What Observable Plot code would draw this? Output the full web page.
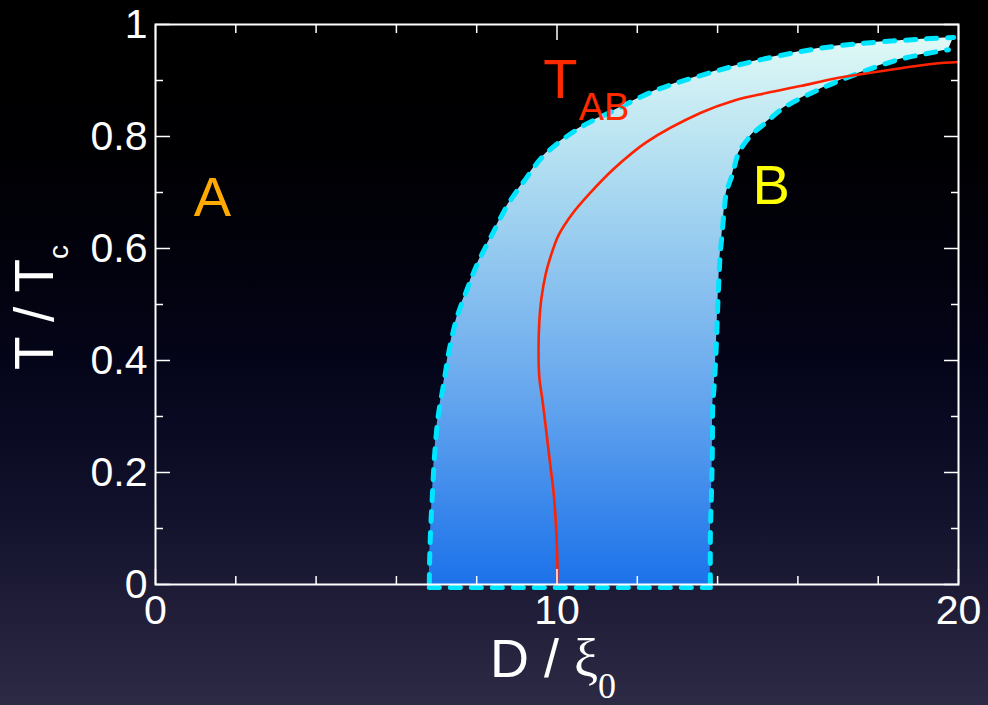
<!DOCTYPE html>
<html><head><meta charset="utf-8">
<script src="https://cdn.jsdelivr.net/npm/d3@7"></script>
<script src="https://cdn.jsdelivr.net/npm/@observablehq/plot@0.6"></script>
<style>
html,body{margin:0;padding:0;width:988px;height:705px;overflow:hidden;
background: linear-gradient(to bottom, #000000 0%, #000002 20%, #02020f 40%, #06061d 55%, #10102a 70%, #1e1c36 85%, #2c2a44 100%);}
#chart svg{display:block;}
</style></head><body><div id="chart"></div>
<script>
// Left (A-side) boundary of the shaded band, bottom to top
const leftD = [6.82, 6.83, 6.86, 6.90, 6.95, 7.04, 7.17, 7.32, 7.50, 7.75, 8.02, 8.40, 8.79, 9.20, 9.66, 10.51, 11.41, 12.41, 13.40, 14.94, 17.01, 19.88];
const leftT = [0.00, 0.05, 0.11, 0.165, 0.23, 0.30, 0.355, 0.42, 0.475, 0.525, 0.573, 0.627, 0.680, 0.722, 0.765, 0.813, 0.846, 0.881, 0.905, 0.935, 0.962, 0.977];
// Right (B-side) boundary of the shaded band, bottom to top
const rightD = [13.82, 13.82, 13.85, 13.87, 13.88, 13.92, 13.97, 14.00, 14.03, 14.06, 14.11, 14.16, 14.22, 14.38, 14.52, 14.82, 15.19, 15.64, 16.56, 17.48, 18.55, 19.75];
const rightT = [0.00, 0.09, 0.17, 0.245, 0.32, 0.36, 0.43, 0.49, 0.54, 0.585, 0.625, 0.665, 0.700, 0.735, 0.770, 0.801, 0.824, 0.851, 0.885, 0.912, 0.938, 0.955];
// T_AB transition line
const tabD = [10.00, 10.01, 9.97, 9.91, 9.84, 9.74, 9.64, 9.56, 9.54, 9.56, 9.61, 9.72, 9.86, 10.04, 10.36, 10.81, 11.41, 12.23, 13.57, 14.40, 15.24, 16.06, 16.89, 17.73, 18.56, 19.38, 20.00];
const tabT = [0.00, 0.03, 0.11, 0.168, 0.209, 0.269, 0.328, 0.37, 0.42, 0.47, 0.51, 0.555, 0.59, 0.624, 0.660, 0.698, 0.742, 0.790, 0.842, 0.864, 0.878, 0.890, 0.903, 0.913, 0.922, 0.930, 0.933];
// Annotations
const annoLabel = ["A", "B", "T", "AB"];
const annoD = [0.95, 14.87, 9.66, 10.54];
const annoT = [0.658, 0.680, 0.869, 0.830];
// Ticks
const xMajor = [0, 10, 20];
const xMinor = [2, 4, 6, 8, 12, 14, 16, 18];
const yMajor = [0, 0.2, 0.4, 0.6, 0.8, 1];
const yMinor = [0.1, 0.3, 0.5, 0.7, 0.9];

const band = leftD.map((d, i) => ({ld: d, lt: leftT[i], rd: rightD[i], rt: rightT[i]}));
const leftPts = leftD.map((d, i) => ({d, t: leftT[i]}));
const rightPts = rightD.map((d, i) => ({d, t: rightT[i]}));
const bottomPts = [{d: leftD[0], t: leftT[0]}, {d: rightD[0], t: rightT[0]}];
const tabPts = tabD.map((d, i) => ({d, t: tabT[i]}));
const anno = annoLabel.map((s, i) => ({s, d: annoD[i], t: annoT[i]}));

const cyan = "#00e5ff";
const dash = {stroke: cyan, strokeWidth: 5, strokeDasharray: "10,11", curve: "catmull-rom"};
const fmt = d => `${d}`;

const chart = Plot.plot({
  width: 988, height: 705,
  marginLeft: 155, marginRight: 30, marginTop: 24, marginBottom: 121,
  x: {domain: [0, 20]},
  y: {domain: [0, 1]},
  style: {background: "transparent", color: "white", fontFamily: "'Liberation Sans', Arial, Helvetica, sans-serif", overflow: "visible"},
  marks: [
    Plot.area(band, {x1: "ld", y1: "lt", x2: "rd", y2: "rt", fill: "url(#bandGrad)", curve: "catmull-rom"}),
    Plot.line(leftPts, {x: "d", y: "t", ...dash}),
    Plot.line(rightPts, {x: "d", y: "t", ...dash}),
    Plot.line(bottomPts, {x: "d", y: "t", stroke: cyan, strokeWidth: 5, strokeDasharray: "10,11", dy: 3}),
    Plot.line(tabPts, {x: "d", y: "t", stroke: "#ff2200", strokeWidth: 2.6, curve: "catmull-rom"}),
    // ticks (inward)
    Plot.axisX(xMajor, {anchor: "bottom", tickSize: -15, fill: "none", label: null, strokeWidth: 1.5}),
    Plot.axisX(xMinor, {anchor: "bottom", tickSize: -8, fill: "none", label: null, strokeWidth: 1.5}),
    Plot.axisX(xMajor, {anchor: "top", tickSize: -15, fill: "none", label: null, strokeWidth: 1.5}),
    Plot.axisX(xMinor, {anchor: "top", tickSize: -8, fill: "none", label: null, strokeWidth: 1.5}),
    Plot.axisY(yMajor, {anchor: "left", tickSize: -15, fill: "none", label: null, strokeWidth: 1.5}),
    Plot.axisY(yMinor, {anchor: "left", tickSize: -8, fill: "none", label: null, strokeWidth: 1.5}),
    Plot.axisY(yMajor, {anchor: "right", tickSize: -15, fill: "none", label: null, strokeWidth: 1.5}),
    Plot.axisY(yMinor, {anchor: "right", tickSize: -8, fill: "none", label: null, strokeWidth: 1.5}),
    // tick labels
    Plot.axisX(xMajor, {anchor: "bottom", tickSize: 0, tickPadding: 10, fontSize: 41, label: null, tickFormat: fmt}),
    Plot.axisY(yMajor, {anchor: "left", tickSize: 0, tickPadding: 8, fontSize: 41, label: null, tickFormat: fmt}),
    Plot.frame({stroke: "white", strokeWidth: 2}),
    // annotations
    Plot.text([anno[0]], {x: "d", y: "t", text: "s", fill: "#ffaa00", fontSize: 56, textAnchor: "start", lineAnchor: "bottom"}),
    Plot.text([anno[1]], {x: "d", y: "t", text: "s", fill: "#ffff00", fontSize: 56, textAnchor: "start", lineAnchor: "bottom"}),
    Plot.text([anno[2]], {x: "d", y: "t", text: "s", fill: "#ff2a00", fontSize: 56, textAnchor: "start", lineAnchor: "bottom"}),
    Plot.text([anno[3]], {x: "d", y: "t", text: "s", fill: "#ff2a00", fontSize: 38, textAnchor: "start", lineAnchor: "bottom"})
  ]
});

const ys = chart.scale("y");
const svg = d3.select(chart);
const grad = svg.insert("defs", ":first-child").append("linearGradient")
  .attr("id", "bandGrad").attr("gradientUnits", "userSpaceOnUse")
  .attr("x1", 0).attr("x2", 0).attr("y1", ys.apply(1)).attr("y2", ys.apply(0));
[[0, "#e4fcf6"], [0.3, "#a8d8f0"], [0.65, "#68a8ee"], [1, "#1c72ea"]].forEach(([o, c]) =>
  grad.append("stop").attr("offset", o).attr("stop-color", c));

// Axis titles with sub-scripts
const xt = svg.append("text").attr("x", 490).attr("y", 677).attr("fill", "white").attr("text-anchor", "start");
xt.append("tspan").attr("font-family", "'Liberation Sans', Arial, sans-serif").attr("font-size", 54).text("D / ");
xt.append("tspan").attr("font-family", "'Liberation Serif', 'Times New Roman', serif").attr("font-size", 54).text("ξ");
xt.append("tspan").attr("font-family", "'Liberation Serif', 'Times New Roman', serif").attr("font-size", 36).attr("dy", 21).text("0");

const yt = svg.append("text").attr("transform", "translate(53,370) rotate(-90)").attr("fill", "white")
  .attr("text-anchor", "start").attr("font-family", "'Liberation Sans', Arial, sans-serif");
yt.append("tspan").attr("font-size", 55).text("T / T");
yt.append("tspan").attr("font-size", 28).attr("dy", 15).text("c");

document.getElementById("chart").append(chart);
</script></body></html>
